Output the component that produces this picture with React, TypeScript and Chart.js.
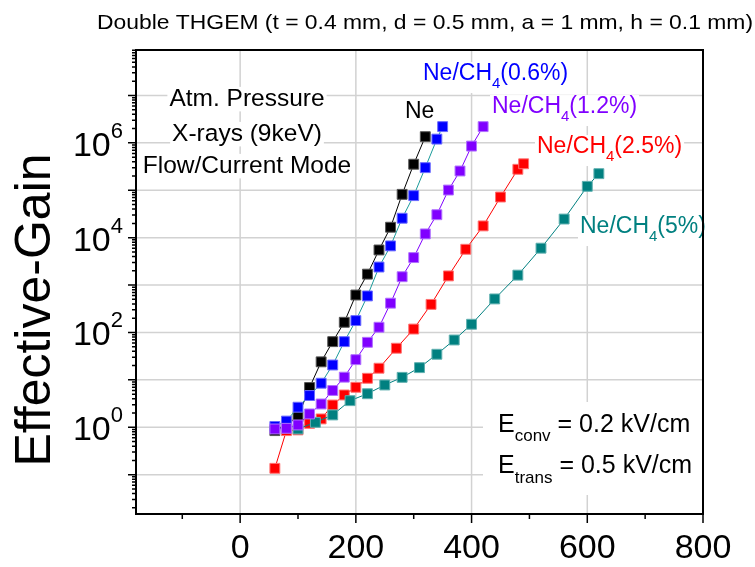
import React, { useEffect, useRef } from 'react';
import { Chart, registerables } from 'chart.js';

Chart.register(...registerables);

// ---------------- data ----------------
const neX = [60, 80, 100, 120, 140, 160, 180, 200, 220, 240, 260, 280, 300, 320];
const neY = [0.85, 1.15, 1.67, 6.9, 24, 64, 164, 617, 1700, 5500, 16600, 82000, 354000, 1.35e6];

const ne06X = [60, 80, 100, 120, 140, 160, 180, 200, 220, 240, 260, 280, 300, 320, 340, 350];
const ne06Y = [1.04, 1.35, 2.65, 4.67, 8.5, 20.6, 64, 178, 590, 2400, 6700, 25700, 77000, 300000, 1.2e6, 2.2e6];

const ne12X = [60, 80, 100, 120, 140, 160, 180, 200, 220, 240, 260, 280, 300, 320, 340, 360, 380, 400, 420];
const ne12Y = [0.92, 0.95, 1.12, 1.91, 3.1, 5.97, 11.4, 26.7, 62, 129, 415, 1500, 3800, 12000, 30500, 101000, 255000, 855000, 2.2e6];

const ne25X = [60, 80, 100, 120, 140, 160, 180, 200, 220, 240, 270, 300, 330, 360, 390, 420, 450, 480, 490];
const ne25Y = [0.136, 0.85, 0.88, 1.21, 1.5, 2.95, 4.8, 6.97, 10.8, 17.6, 46.5, 118, 391, 1560, 5690, 17700, 72000, 277000, 362000];

const ne5X = [100, 130, 160, 190, 220, 250, 280, 310, 340, 370, 400, 440, 480, 520, 560, 600, 620];
const ne5Y = [0.92, 1.27, 1.82, 3.64, 5.1, 7.8, 11.3, 18.1, 34.7, 69.4, 149, 510, 1620, 6000, 24700, 121000, 224000];

const xMajorTicks = [0, 200, 400, 600, 800];
const xMinorTicks = [-100, 100, 300, 500, 700];
const xGridValues = [0, 200, 400, 600];
const yLabelExponents = [0, 2, 4, 6];
const yDecadeExponents = [-1, 0, 1, 2, 3, 4, 5, 6, 7];

const titleText = 'Double THGEM (t = 0.4 mm, d = 0.5 mm, a = 1 mm, h = 0.1 mm)';
const yAxisTitle = 'Effective-Gain';
const infoLines = ['Atm. Pressure', 'X-rays (9keV)', 'Flow/Current Mode'];

const X_MIN = -180;
const X_MAX = 800;
const Y_MIN = 0.0148;
const Y_MAX = 9.1e7;

const FONT = '"Liberation Sans", Arial, Helvetica, sans-serif';

type Part = { t: string; size: number; dy?: number };

function partsWidth(ctx: CanvasRenderingContext2D, parts: Part[]) {
  let w = 0;
  for (const p of parts) {
    ctx.font = `${p.size}px ${FONT}`;
    w += ctx.measureText(p.t).width;
  }
  return w;
}

function drawParts(
  ctx: CanvasRenderingContext2D,
  parts: Part[],
  x: number,
  baseline: number,
  color: string,
  align: 'left' | 'center' | 'right' = 'left',
  whiteBg = false
) {
  const w = partsWidth(ctx, parts);
  let sx = x;
  if (align === 'center') sx = x - w / 2;
  if (align === 'right') sx = x - w;
  if (whiteBg) {
    const maxSize = Math.max(...parts.map((p) => p.size));
    const maxDy = Math.max(0, ...parts.map((p) => p.dy || 0));
    ctx.fillStyle = '#ffffff';
    ctx.fillRect(sx - 2, baseline - maxSize * 0.78, w + 4, maxSize * 0.78 + maxDy + maxSize * 0.22);
  }
  ctx.fillStyle = color;
  ctx.textAlign = 'left';
  ctx.textBaseline = 'alphabetic';
  let cx = sx;
  for (const p of parts) {
    ctx.font = `${p.size}px ${FONT}`;
    ctx.fillText(p.t, cx, baseline + (p.dy || 0));
    cx += ctx.measureText(p.t).width;
  }
}

function chLabel(pct: string): Part[] {
  return [
    { t: 'Ne/CH', size: 23 },
    { t: '4', size: 15, dy: 8 },
    { t: `(${pct})`, size: 23 },
  ];
}

const decorPlugin = {
  id: 'decor',
  beforeDatasetsDraw(chart: any) {
    const { ctx, chartArea: a, scales } = chart;
    const xs = scales.x;
    const ys = scales.y;
    ctx.save();
    // grid lines
    ctx.strokeStyle = '#d2d2d2';
    ctx.lineWidth = 1.5;
    ctx.beginPath();
    for (const v of xGridValues) {
      const px = xs.getPixelForValue(v);
      ctx.moveTo(px, a.top);
      ctx.lineTo(px, a.bottom);
    }
    for (const e of yDecadeExponents) {
      const py = ys.getPixelForValue(Math.pow(10, e));
      ctx.moveTo(a.left, py);
      ctx.lineTo(a.right, py);
    }
    ctx.stroke();

    // info block (top-left)
    const infoBaselines = [106, 141, 173];
    infoLines.forEach((t, i) => {
      drawParts(ctx, [{ t, size: 24.5 }], 247, infoBaselines[i], '#000000', 'center', true);
    });

    // field box (bottom-right)
    ctx.fillStyle = '#ffffff';
    ctx.fillRect(483, 402, a.right - 483, 93);
    drawParts(
      ctx,
      [
        { t: 'E', size: 25 },
        { t: 'conv', size: 17, dy: 9 },
        { t: ' = 0.2 kV/cm', size: 25 },
      ],
      498,
      432,
      '#000000'
    );
    drawParts(
      ctx,
      [
        { t: 'E', size: 25 },
        { t: 'trans', size: 17, dy: 10 },
        { t: ' = 0.5 kV/cm', size: 25 },
      ],
      498,
      473,
      '#000000'
    );

    // series labels
    drawParts(ctx, [{ t: 'Ne', size: 23 }], 405, 118, '#000000', 'left', true);
    drawParts(ctx, chLabel('0.6%'), 423, 80, '#0000ff', 'left', true);
    drawParts(ctx, chLabel('1.2%'), 492, 113, '#8000ff', 'left', true);
    drawParts(ctx, chLabel('2.5%'), 537, 153, '#ff0000', 'left', true);
    drawParts(ctx, chLabel('5%'), 580, 233, '#008080', 'left', true);
    ctx.restore();
  },
  afterDraw(chart: any) {
    const { ctx, chartArea: a, scales } = chart;
    const xs = scales.x;
    const ys = scales.y;
    ctx.save();
    // frame
    ctx.strokeStyle = '#000000';
    ctx.lineWidth = 2;
    ctx.strokeRect(a.left, a.top, a.right - a.left, a.bottom - a.top);

    // x ticks
    ctx.lineWidth = 1.5;
    ctx.beginPath();
    for (const v of xMajorTicks) {
      const px = xs.getPixelForValue(v);
      ctx.moveTo(px, a.bottom);
      ctx.lineTo(px, a.bottom + 9);
    }
    for (const v of xMinorTicks) {
      const px = xs.getPixelForValue(v);
      ctx.moveTo(px, a.bottom);
      ctx.lineTo(px, a.bottom + 5);
    }
    // y ticks
    for (let e = -2; e <= 8; e++) {
      for (let m = 1; m <= 9; m++) {
        const v = m * Math.pow(10, e);
        if (v < Y_MIN || v > Y_MAX) continue;
        const py = ys.getPixelForValue(v);
        const len = m === 1 ? 8 : 4;
        ctx.moveTo(a.left, py);
        ctx.lineTo(a.left - len, py);
      }
    }
    ctx.stroke();

    // x tick labels
    ctx.fillStyle = '#000000';
    ctx.font = `34px ${FONT}`;
    ctx.textAlign = 'center';
    ctx.textBaseline = 'alphabetic';
    for (const v of xMajorTicks) {
      ctx.fillText(String(v), xs.getPixelForValue(v), 558);
    }

    // y tick labels 10^n
    for (const e of yLabelExponents) {
      const py = ys.getPixelForValue(Math.pow(10, e));
      ctx.font = `22px ${FONT}`;
      const sup = String(e);
      const sw = ctx.measureText(sup).width;
      ctx.textAlign = 'right';
      ctx.fillText(sup, 123, py - 5);
      ctx.font = `34px ${FONT}`;
      ctx.fillText('10', 123 - sw, py + 13);
    }

    // y axis title
    ctx.save();
    ctx.translate(50, 310);
    ctx.rotate(-Math.PI / 2);
    ctx.font = `50px ${FONT}`;
    ctx.textAlign = 'center';
    ctx.fillText(yAxisTitle, 0, 0);
    ctx.restore();

    // title (fitted to the reference width)
    ctx.font = `21px ${FONT}`;
    ctx.textAlign = 'center';
    const tw = ctx.measureText(titleText).width;
    const sx = 656 / tw;
    ctx.save();
    ctx.translate(425, 29);
    ctx.scale(sx, 1);
    ctx.fillText(titleText, 0, 0);
    ctx.restore();
    ctx.restore();
  },
};

function mkSet(label: string, xs: number[], ys: number[], color: string, edge: string, lineColor: string, order: number) {
  return {
    label,
    data: xs.map((x, i) => ({ x, y: ys[i] })),
    borderColor: lineColor,
    backgroundColor: color,
    borderWidth: 1,
    pointStyle: 'rect',
    pointRadius: 7,
    pointBackgroundColor: color,
    pointBorderColor: edge,
    pointBorderWidth: 1,
    tension: 0,
    order,
    clip: false,
  };
}

export default function App() {
  const ref = useRef<HTMLCanvasElement | null>(null);
  useEffect(() => {
    if (!ref.current) return;
    const chart = new Chart(ref.current, {
      type: 'line',
      data: {
        datasets: [
          mkSet('Ne', neX, neY, '#000000', '#555555', '#000000', 5),
          mkSet('Ne/CH4(0.6%)', ne06X, ne06Y, '#0000ff', '#6a6aff', '#1a9a9a', 4),
          mkSet('Ne/CH4(2.5%)', ne25X, ne25Y, '#ff0000', '#ff7070', '#ff0000', 3),
          mkSet('Ne/CH4(5%)', ne5X, ne5Y, '#008080', '#5fb0b0', '#008080', 2),
          mkSet('Ne/CH4(1.2%)', ne12X, ne12Y, '#8000ff', '#b070ff', '#8000ff', 1),
        ] as any,
      },
      options: {
        responsive: false,
        animation: false,
        events: [],
        layout: { padding: { top: 50, right: 52, left: 0, bottom: 0 } },
        plugins: { legend: { display: false }, tooltip: { enabled: false }, title: { display: false } },
        scales: {
          x: {
            type: 'linear',
            min: X_MIN,
            max: X_MAX,
            grid: { display: false },
            border: { display: false },
            ticks: { display: false },
            afterFit: (s: any) => {
              s.height = 53;
            },
          },
          y: {
            type: 'logarithmic',
            min: Y_MIN,
            max: Y_MAX,
            grid: { display: false },
            border: { display: false },
            ticks: { display: false },
            afterFit: (s: any) => {
              s.width = 136;
            },
          },
        },
      } as any,
      plugins: [decorPlugin],
    });
    return () => chart.destroy();
  }, []);
  return (
    <div style={{ position: 'absolute', left: 0, top: 0, width: 755, height: 567, background: '#ffffff' }}>
      <canvas ref={ref} width={755} height={567} style={{ display: 'block', width: 755, height: 567 }} />
    </div>
  );
}
